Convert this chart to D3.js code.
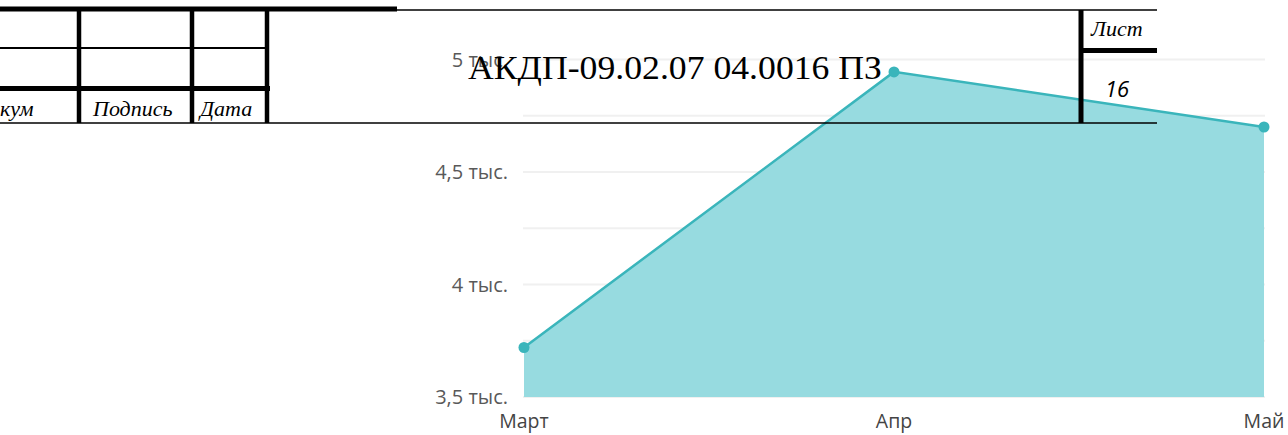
<!DOCTYPE html>
<html>
<head>
<meta charset="utf-8">
<script src="https://cdn.jsdelivr.net/npm/d3@7"></script>
<style>
  body { margin: 0; background: #fff; }
  svg { display: block; }
</style>
</head>
<body>
<div id="chart"></div>
<script>
// data
var months = ["Март", "Апр", "Май"];
var visits = [3720, 4945, 4700];
var tickValues = [3500, 4000, 4500, 5000];
var tickLabels = ["3,5 тыс.", "4 тыс.", "4,5 тыс.", "5 тыс."];
var gridValues = [3750, 4250, 4750];

var width = 1288, height = 435;

var svg = d3.select("#chart")
  .append("svg")
  .attr("width", width)
  .attr("height", height);

var x = d3.scalePoint().domain(months).range([524, 1264]);
var y = d3.scaleLinear().domain([3500, 5000]).range([397, 59.5]);

var data = months.map(function(m, i) { return { m: m, v: visits[i] }; });

// gridlines
svg.append("g")
  .selectAll("line")
  .data(tickValues.concat(gridValues))
  .enter()
  .append("line")
  .attr("x1", 523)
  .attr("x2", 1265)
  .attr("y1", function(d) { return y(d); })
  .attr("y2", function(d) { return y(d); })
  .attr("stroke", "#f0f0f0")
  .attr("stroke-width", 2);

// area + line
var area = d3.area()
  .x(function(d) { return x(d.m); })
  .y0(y(3500))
  .y1(function(d) { return y(d.v); });

var line = d3.line()
  .x(function(d) { return x(d.m); })
  .y(function(d) { return y(d.v); });

svg.append("path")
  .datum(data)
  .attr("d", area)
  .attr("fill", "#97dbe0");

svg.append("path")
  .datum(data)
  .attr("d", line)
  .attr("fill", "none")
  .attr("stroke", "#3ab5bb")
  .attr("stroke-width", 2.5);

svg.append("g")
  .selectAll("circle")
  .data(data)
  .enter()
  .append("circle")
  .attr("cx", function(d) { return x(d.m); })
  .attr("cy", function(d) { return y(d.v); })
  .attr("r", 5.5)
  .attr("fill", "#3ab5bb");

// y labels
svg.append("g")
  .selectAll("text")
  .data(tickValues)
  .enter()
  .append("text")
  .attr("x", 508)
  .attr("y", function(d) { return y(d); })
  .attr("dy", "0.35em")
  .attr("text-anchor", "end")
  .style("font-family", "'Open Sans', sans-serif")
  .style("font-size", "20px")
  .attr("fill", "#595959")
  .text(function(d, i) { return tickLabels[i]; });

// x labels
svg.append("g")
  .selectAll("text")
  .data(months)
  .enter()
  .append("text")
  .attr("x", function(d) { return x(d); })
  .attr("y", 428)
  .attr("text-anchor", "middle")
  .style("font-family", "'Open Sans', sans-serif")
  .style("font-size", "19.5px")
  .attr("fill", "#444")
  .text(function(d) { return d; });

// drawing frame (stamp) on top
var frame = svg.append("g").attr("stroke", "#000");

function hline(x1, x2, yy, w) {
  frame.append("line").attr("x1", x1).attr("x2", x2).attr("y1", yy).attr("y2", yy).attr("stroke-width", w);
}
function vline(xx, y1, y2, w) {
  frame.append("line").attr("x1", xx).attr("x2", xx).attr("y1", y1).attr("y2", y2).attr("stroke-width", w);
}

hline(0, 397, 9, 5);
hline(395, 1157, 10, 1.5);
hline(0, 266, 48, 2);
hline(0, 270, 88.5, 5);
hline(0, 1157, 123, 1.5);
vline(79, 7, 123, 4.5);
vline(192, 7, 123, 4.5);
vline(267, 7, 123, 4.5);
vline(1081, 10, 123, 5);
hline(1081, 1157, 50.5, 5);

var serif = "'Liberation Serif', 'Times New Roman', serif";

svg.append("text")
  .attr("x", 468)
  .attr("y", 79)
  .attr("textLength", 414)
  .attr("lengthAdjust", "spacingAndGlyphs")
  .style("font-family", serif)
  .style("font-size", "33px")
  .text("АКДП-09.02.07 04.0016 ПЗ");

var stamp = [
  { t: "кум", x: 0 },
  { t: "Подпись", x: 93 },
  { t: "Дата", x: 200 }
];
svg.append("g")
  .selectAll("text")
  .data(stamp)
  .enter()
  .append("text")
  .attr("x", function(d) { return d.x; })
  .attr("y", 116)
  .style("font-family", serif)
  .style("font-style", "italic")
  .style("font-size", "22px")
  .text(function(d) { return d.t; });

svg.append("text")
  .attr("x", 1091)
  .attr("y", 36)
  .style("font-family", serif)
  .style("font-style", "italic")
  .style("font-size", "22px")
  .text("Лист");

svg.append("text")
  .attr("x", 1105)
  .attr("y", 97)
  .style("font-family", "'Open Sans', sans-serif")
  .style("font-style", "italic")
  .style("font-size", "22px")
  .text("16");
</script>
</body>
</html>
